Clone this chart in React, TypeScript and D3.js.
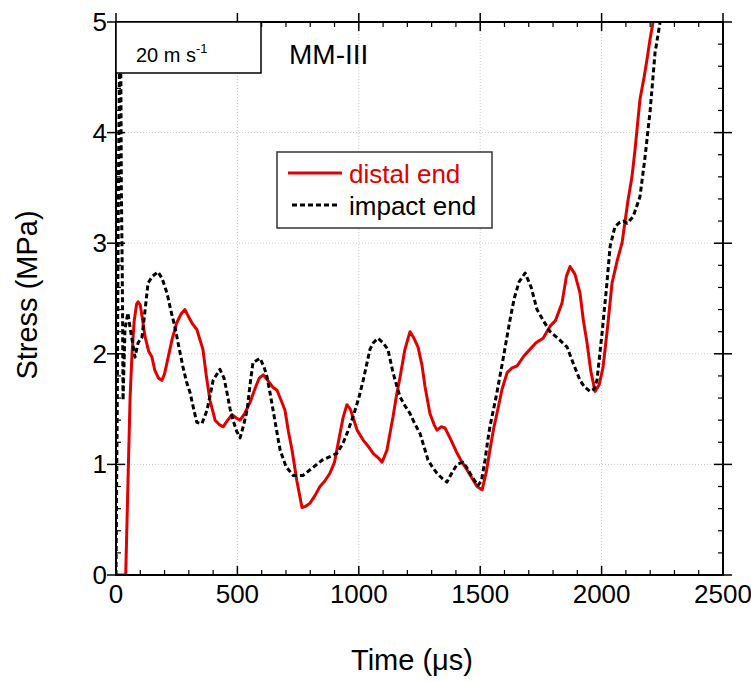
import React from "react";
import * as d3 from "d3";

const distalT = [0,20,40,50,58,66,75,85,91,100,110,120,135,148,160,175,189,200,215,231,250,268,284,300,315,333,358,372,387,400,408,425,441,460,478,495,511,530,552,575,590,606,625,645,663,680,696,710,725,745,766,780,799,820,840,860,881,900,920,935,951,965,980,993,1018,1040,1059,1080,1096,1116,1130,1141,1155,1170,1190,1211,1225,1244,1260,1273,1293,1310,1322,1340,1355,1380,1405,1425,1446,1465,1487,1508,1525,1540,1555,1569,1590,1611,1630,1652,1680,1705,1730,1759,1788,1810,1837,1855,1870,1890,1911,1925,1940,1955,1973,1990,2006,2025,2043,2065,2084,2100,2109,2125,2138,2158,2175,2187,2200,2212,2240];
const distalV = [0,0,0,0.9,1.6,2.0,2.3,2.45,2.47,2.44,2.3,2.15,2.02,1.97,1.85,1.78,1.76,1.82,1.97,2.13,2.28,2.36,2.4,2.33,2.27,2.22,2.04,1.8,1.58,1.47,1.40,1.36,1.34,1.4,1.45,1.42,1.40,1.46,1.56,1.7,1.78,1.81,1.76,1.70,1.67,1.58,1.49,1.3,1.13,0.85,0.61,0.62,0.65,0.72,0.8,0.85,0.92,1.02,1.25,1.42,1.54,1.5,1.4,1.31,1.22,1.16,1.10,1.06,1.02,1.13,1.3,1.43,1.62,1.79,2.04,2.2,2.15,2.06,1.9,1.70,1.46,1.36,1.31,1.34,1.33,1.22,1.10,1.02,0.95,0.88,0.80,0.77,0.93,1.13,1.32,1.46,1.68,1.83,1.87,1.89,1.98,2.04,2.1,2.14,2.25,2.3,2.46,2.7,2.79,2.72,2.55,2.3,2.10,1.85,1.66,1.72,1.88,2.25,2.64,2.85,3.0,3.25,3.39,3.6,3.85,4.3,4.5,4.66,4.85,5.0,5.4];

const impactT = [0,5,10,15,20,22,25,27,29,33,37,43,49,57,66,78,91,107,120,132,150,173,190,210,225,243,260,276,290,305,320,333,354,375,390,400,428,445,457,470,482,497,511,525,540,552,564,593,610,622,635,647,662,676,700,730,770,810,850,881,910,935,955,976,1000,1018,1032,1046,1060,1079,1100,1120,1141,1155,1170,1190,1211,1230,1252,1270,1285,1305,1322,1345,1363,1385,1405,1429,1445,1458,1475,1491,1505,1520,1530,1540,1555,1569,1594,1610,1623,1640,1660,1685,1710,1734,1760,1788,1820,1858,1882,1911,1930,1952,1968,1981,2002,2022,2035,2055,2076,2090,2105,2130,2158,2179,2200,2220,2241,2260];
const impactV = [0,1.5,3.5,4.8,4.5,3.5,2.9,2.4,1.58,1.9,2.22,2.3,2.37,2.25,2.13,1.97,2.1,2.15,2.4,2.64,2.7,2.74,2.68,2.55,2.4,2.24,2.05,1.88,1.75,1.65,1.5,1.38,1.37,1.49,1.65,1.76,1.86,1.78,1.65,1.5,1.40,1.3,1.24,1.35,1.49,1.72,1.92,1.96,1.88,1.79,1.64,1.49,1.3,1.13,0.98,0.9,0.9,0.97,1.04,1.07,1.1,1.19,1.3,1.43,1.6,1.76,1.9,2.04,2.1,2.14,2.1,2.04,1.83,1.72,1.61,1.53,1.46,1.37,1.28,1.15,1.04,0.97,0.92,0.87,0.84,0.93,1.0,1.02,0.97,0.92,0.86,0.81,0.85,1.04,1.2,1.34,1.5,1.65,1.95,2.15,2.31,2.5,2.65,2.73,2.6,2.40,2.3,2.2,2.14,2.06,1.92,1.76,1.7,1.66,1.68,1.76,2.19,2.64,2.97,3.15,3.19,3.2,3.18,3.24,3.42,3.78,4.2,4.72,5.0,5.35];

const xMajor = [0, 500, 1000, 1500, 2000, 2500];
const yMajor = [0, 1, 2, 3, 4, 5];
const seriesNames = ["distal end", "impact end"];
const xTitle = "Time (\u03BCs)";
const yTitle = "Stress (MPa)";
const speedLabel = "20 m s";
const specimen = "MM-III";

const L = 116, R = 723, T = 22, B = 575;
const FONT = "'Liberation Sans', Arial, sans-serif";

export default function App() {
  const x = d3.scaleLinear().domain([0, 2500]).range([L, R]);
  const y = d3.scaleLinear().domain([0, 5]).range([B, T]);
  const line = d3.line<[number, number]>().x(d => x(d[0])).y(d => y(d[1]));
  const red = line(distalT.map((t, i) => [t, distalV[i]]) as [number, number][]) || "";
  const blk = line(impactT.map((t, i) => [t, impactV[i]]) as [number, number][]) || "";
  const xMinor = d3.range(0, 2501, 100).filter(v => v % 500 !== 0);
  const yMinor = d3.range(0, 5.001, 0.2).filter(v => Math.abs(v - Math.round(v)) > 1e-6);

  return (
    <svg width={751} height={682} style={{ position: "absolute", left: 0, top: 0, background: "#fff" }} fontFamily={FONT}>
      <defs>
        <clipPath id="plot"><rect x={L} y={T} width={R - L} height={B - T} /></clipPath>
      </defs>
      <rect x={0} y={0} width={751} height={682} fill="#fff" />
      {/* grid */}
      {xMajor.slice(1, -1).map(v => (
        <line key={"gx" + v} x1={x(v)} x2={x(v)} y1={T} y2={B} stroke="#c8c8c8" strokeWidth={1} strokeDasharray="1,2" />
      ))}
      {yMajor.slice(1, -1).map(v => (
        <line key={"gy" + v} x1={L} x2={R} y1={y(v)} y2={y(v)} stroke="#c8c8c8" strokeWidth={1} strokeDasharray="1,2" />
      ))}
      {/* data */}
      <g clipPath="url(#plot)">
        <path d={red} fill="none" stroke="#e00000" strokeWidth={3} strokeLinejoin="round" />
        <path d={blk} fill="none" stroke="#000" strokeWidth={3} strokeDasharray="5,3" strokeLinejoin="round" />
      </g>
      {/* frame */}
      <rect x={L} y={T} width={R - L} height={B - T} fill="none" stroke="#000" strokeWidth={2} />
      {/* major ticks */}
      {xMajor.map(v => (
        <g key={"xt" + v}>
          <line x1={x(v)} x2={x(v)} y1={B} y2={B - 9} stroke="#000" strokeWidth={1.5} />
          <line x1={x(v)} x2={x(v)} y1={T - 9} y2={T + 9} stroke="#000" strokeWidth={1.5} />
          <text x={x(v)} y={603} textAnchor="middle" fontSize={26} fill="#000">{v}</text>
        </g>
      ))}
      {yMajor.map(v => (
        <g key={"yt" + v}>
          <line x1={L - 9} x2={L + 9} y1={y(v)} y2={y(v)} stroke="#000" strokeWidth={1.5} />
          <line x1={R - 9} x2={R + 9} y1={y(v)} y2={y(v)} stroke="#000" strokeWidth={1.5} />
          <text x={107} y={y(v) + 9} textAnchor="end" fontSize={26} fill="#000">{v}</text>
        </g>
      ))}
      {xMinor.map(v => (
        <g key={"xm" + v}>
          <line x1={x(v)} x2={x(v)} y1={B} y2={B - 5} stroke="#000" strokeWidth={1.2} />
          <line x1={x(v)} x2={x(v)} y1={T} y2={T + 5} stroke="#000" strokeWidth={1.2} />
        </g>
      ))}
      {yMinor.map(v => (
        <g key={"ym" + v}>
          <line x1={L} x2={L + 5} y1={y(v)} y2={y(v)} stroke="#000" strokeWidth={1.2} />
          <line x1={R} x2={R - 5} y1={y(v)} y2={y(v)} stroke="#000" strokeWidth={1.2} />
        </g>
      ))}
      {/* speed box */}
      <rect x={L} y={T} width={145} height={51} fill="#fff" stroke="#000" strokeWidth={1.5} />
      <text x={136} y={62} fontSize={20} fill="#000">{speedLabel}<tspan dy={-9} fontSize={13}>-1</tspan></text>
      <text x={289} y={64} fontSize={28} fill="#000">{specimen}</text>
      {/* legend */}
      <rect x={277} y={152} width={215} height={76} fill="#fff" stroke="#333" strokeWidth={1.5} />
      <line x1={288} x2={342} y1={173} y2={173} stroke="#e00000" strokeWidth={3} />
      <text x={349} y={183} fontSize={26} fill="#e00000">{seriesNames[0]}</text>
      <line x1={292} x2={340} y1={205} y2={205} stroke="#000" strokeWidth={3} strokeDasharray="5,3" />
      <text x={349} y={215} fontSize={26} fill="#000">{seriesNames[1]}</text>
      {/* axis titles */}
      <text x={412} y={670} textAnchor="middle" fontSize={29} fill="#000">{xTitle}</text>
      <text transform={`translate(37,295) rotate(-90)`} textAnchor="middle" fontSize={29} fill="#000">{yTitle}</text>
    </svg>
  );
}
